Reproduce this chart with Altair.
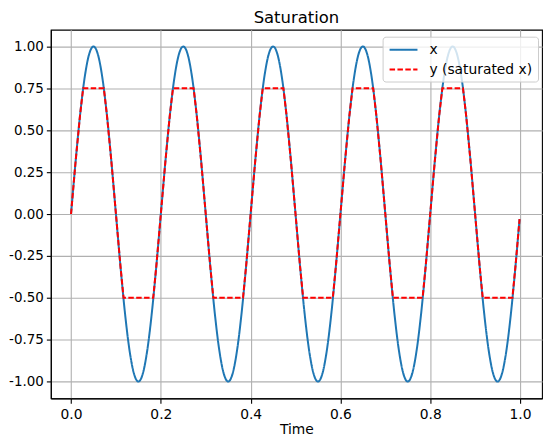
import altair as alt
import pandas as pd

# ===========================
# DADOS
# ===========================
t_x = [
    0.00, 0.01, 0.02, 0.03, 0.04, 0.05, 0.06, 0.07, 0.08, 0.09,
    0.10, 0.11, 0.12, 0.13, 0.14, 0.15, 0.16, 0.17, 0.18, 0.19,
    0.20, 0.21, 0.22, 0.23, 0.24, 0.25, 0.26, 0.27, 0.28, 0.29,
    0.30, 0.31, 0.32, 0.33, 0.34, 0.35, 0.36, 0.37, 0.38, 0.39,
    0.40, 0.41, 0.42, 0.43, 0.44, 0.45, 0.46, 0.47, 0.48, 0.49,
    0.50, 0.51, 0.52, 0.53, 0.54, 0.55, 0.56, 0.57, 0.58, 0.59,
    0.60, 0.61, 0.62, 0.63, 0.64, 0.65, 0.66, 0.67, 0.68, 0.69,
    0.70, 0.71, 0.72, 0.73, 0.74, 0.75, 0.76, 0.77, 0.78, 0.79,
    0.80, 0.81, 0.82, 0.83, 0.84, 0.85, 0.86, 0.87, 0.88, 0.89,
    0.90, 0.91, 0.92, 0.93, 0.94, 0.95, 0.96, 0.97, 0.98, 0.99,
    0.999,
]
x_vals = [
    0.0, 0.309, 0.588, 0.809, 0.951, 1.0, 0.951, 0.809, 0.588, 0.309,
    0.0, -0.309, -0.588, -0.809, -0.951, -1.0, -0.951, -0.809, -0.588, -0.309,
    0.0, 0.309, 0.588, 0.809, 0.951, 1.0, 0.951, 0.809, 0.588, 0.309,
    0.0, -0.309, -0.588, -0.809, -0.951, -1.0, -0.951, -0.809, -0.588, -0.309,
    0.0, 0.309, 0.588, 0.809, 0.951, 1.0, 0.951, 0.809, 0.588, 0.309,
    0.0, -0.309, -0.588, -0.809, -0.951, -1.0, -0.951, -0.809, -0.588, -0.309,
    0.0, 0.309, 0.588, 0.809, 0.951, 1.0, 0.951, 0.809, 0.588, 0.309,
    0.0, -0.309, -0.588, -0.809, -0.951, -1.0, -0.951, -0.809, -0.588, -0.309,
    0.0, 0.309, 0.588, 0.809, 0.951, 1.0, 0.951, 0.809, 0.588, 0.309,
    0.0, -0.309, -0.588, -0.809, -0.951, -1.0, -0.951, -0.809, -0.588, -0.309,
    -0.03,
]

# y saturado entre -0.5 e 0.75 (cantos incluídos)
t_y = [
    0.00, 0.01, 0.02, 0.027, 0.073, 0.08, 0.09, 0.10, 0.11, 0.117, 0.183, 0.19,
    0.20, 0.21, 0.22, 0.227, 0.273, 0.28, 0.29, 0.30, 0.31, 0.317, 0.383, 0.39,
    0.40, 0.41, 0.42, 0.427, 0.473, 0.48, 0.49, 0.50, 0.51, 0.517, 0.583, 0.59,
    0.60, 0.61, 0.62, 0.627, 0.673, 0.68, 0.69, 0.70, 0.71, 0.717, 0.783, 0.79,
    0.80, 0.81, 0.82, 0.827, 0.873, 0.88, 0.89, 0.90, 0.91, 0.917, 0.983, 0.99,
    0.999,
]
y_vals = [
    0.0, 0.309, 0.588, 0.75, 0.75, 0.588, 0.309, 0.0, -0.309, -0.5, -0.5, -0.309,
    0.0, 0.309, 0.588, 0.75, 0.75, 0.588, 0.309, 0.0, -0.309, -0.5, -0.5, -0.309,
    0.0, 0.309, 0.588, 0.75, 0.75, 0.588, 0.309, 0.0, -0.309, -0.5, -0.5, -0.309,
    0.0, 0.309, 0.588, 0.75, 0.75, 0.588, 0.309, 0.0, -0.309, -0.5, -0.5, -0.309,
    0.0, 0.309, 0.588, 0.75, 0.75, 0.588, 0.309, 0.0, -0.309, -0.5, -0.5, -0.309,
    -0.03,
]

series_names = ["x", "y (saturated x)"]
series_colors = ["#1f77b4", "#ff0000"]
series_dash = [[1, 0], [5.5, 2.4]]

x_ticks = [0.0, 0.2, 0.4, 0.6, 0.8, 1.0]
y_ticks = [-1.0, -0.75, -0.5, -0.25, 0.0, 0.25, 0.5, 0.75, 1.0]

df_x = pd.DataFrame({"t": t_x, "v": x_vals, "serie": series_names[0]})
df_y = pd.DataFrame({"t": t_y, "v": y_vals, "serie": series_names[1]})

# ===========================
# ESCALAS / CODIFICAÇÃO
# ===========================
x_enc = alt.X(
    "t:Q",
    title="Time",
    scale=alt.Scale(domain=[-0.045, 1.049], nice=False, zero=False),
    axis=alt.Axis(values=x_ticks, format=".1f", titlePadding=1),
)
y_enc = alt.Y(
    "v:Q",
    title=None,
    scale=alt.Scale(domain=[-1.1, 1.1], nice=False, zero=False),
    # hífen simples no lugar do sinal de menos, para caber na margem
    axis=alt.Axis(
        values=y_ticks,
        labelExpr="replace(format(datum.value, '.2f'), '\u2212', '-')",
        labelFontSize=13.5,
        labelPadding=3,
        tickSize=4.5,
    ),
)
# símbolo de linha mais largo que o espaço da entrada (linhas mais baixas)
cor = alt.Color(
    "serie:N",
    title=None,
    scale=alt.Scale(domain=series_names, range=series_colors),
    legend=alt.Legend(
        orient="none",
        legendX=333,
        legendY=7,
        symbolType="M-2,0H2",
        symbolSize=196,
        symbolStrokeWidth=2,
        symbolOffset=8,
        labelFontSize=13.9,
        labelFont="DejaVu Sans",
        labelColor="black",
        labelOffset=18,
        rowPadding=5,
        padding=5,
        fillColor="rgba(255,255,255,0.8)",
        strokeColor="#cccccc",
        cornerRadius=3,
    ),
)
traco = alt.StrokeDash(
    "serie:N",
    title=None,
    scale=alt.Scale(domain=series_names, range=series_dash),
)

linha_x = alt.Chart(df_x).mark_line(strokeWidth=2, interpolate="monotone").encode(
    x=x_enc, y=y_enc, color=cor, strokeDash=traco
)
linha_y = alt.Chart(df_y).mark_line(strokeWidth=2).encode(
    x=x_enc, y=y_enc, color=cor, strokeDash=traco
)

chart = (
    alt.layer(linha_x, linha_y)
    .properties(
        width=493,
        height=370,
        title=alt.Title("Saturation", fontSize=16.5, font="DejaVu Sans",
                        fontWeight="normal", color="black", offset=3),
        autosize=alt.AutoSizeParams(type="none"),
        padding={"left": 43, "top": 21, "right": 2, "bottom": 39},
    )
    .configure_view(stroke="black", strokeWidth=1.1)
    .configure_axis(
        domainColor="black",
        domainWidth=1.1,
        tickColor="black",
        tickSize=5,
        tickWidth=1.1,
        labelFont="DejaVu Sans",
        labelFontSize=13.9,
        labelColor="black",
        labelPadding=4,
        titleFont="DejaVu Sans",
        titleFontSize=13.9,
        titleFontWeight="normal",
        titleColor="black",
        grid=True,
        gridColor="#b0b0b0",
        gridWidth=1.1,
    )
)

chart.save("out.html", embed_options={"renderer": "svg", "actions": False})
